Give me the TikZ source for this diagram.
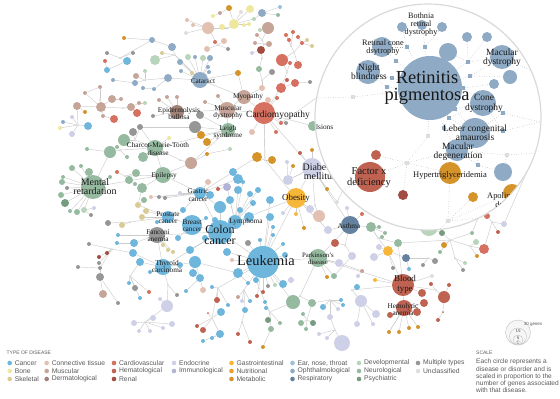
\documentclass[tikz,border=0pt]{standalone}
\usepackage{fontspec}
\setmainfont{Liberation Serif}
\setsansfont{Liberation Sans}
\usetikzlibrary{backgrounds,positioning}

\definecolor{cancer}{RGB}{110,182,220}
\definecolor{bone}{RGB}{238,232,158}
\definecolor{skel}{RGB}{216,203,148}
\definecolor{conn}{RGB}{226,192,178}
\definecolor{musc}{RGB}{198,164,152}
\definecolor{derm}{RGB}{160,130,120}
\definecolor{cardio}{RGB}{214,112,96}
\definecolor{hema}{RGB}{192,98,82}
\definecolor{renal}{RGB}{162,76,66}
\definecolor{endo}{RGB}{206,208,232}
\definecolor{immu}{RGB}{178,180,214}
\definecolor{gastro}{RGB}{246,182,58}
\definecolor{nutri}{RGB}{230,160,50}
\definecolor{metab}{RGB}{212,148,42}
\definecolor{ent}{RGB}{156,192,218}
\definecolor{ophth}{RGB}{142,170,196}
\definecolor{resp}{RGB}{100,130,160}
\definecolor{devel}{RGB}{184,212,186}
\definecolor{neuro}{RGB}{150,186,160}
\definecolor{psych}{RGB}{118,156,128}
\definecolor{multi}{RGB}{150,150,150}
\definecolor{uncl}{RGB}{222,222,222}
\colorlet{genept}{gray!40}

\tikzset{
  dis/.style={circle, inner sep=0pt, draw=none},
  link/.style={draw=gray!40, line width=0.45bp},
  sq/.style={rectangle, inner sep=0pt, minimum size=3.6bp, fill=ophth},
  lsq/.style={sq, fill=uncl},
  mag/.style={draw=gray!65, dotted, line width=0.5bp},
  lens/.style={draw=gray!30, line width=1.2bp, fill=white},
  lbl/.style={inner sep=0pt, align=center, text=black!90, font=\fontsize{7.3}{7.3}\selectfont},
  key/.style={circle, inner sep=0pt, minimum size=4.6bp},
  keytxt/.style={inner sep=0pt, font=\sffamily\fontsize{6.8}{6.8}\selectfont, text=black!65},
  scl/.style={circle, inner sep=0pt, draw=gray!50, fill=gray!7, line width=0.4bp},
}

% name/x/y/radius/colour/parent
\def\netlist{t1/208/28/6/conn/t6,
t2/187/20/2/conn/t1,
t3/193/25/2/conn/t1,
t4/186/33/2/uncl/t1,
t5/222/27/3/bone/t6,
t6/228/28/1/genept/t7,
t7/234/24/5/bone/t6,
t8/229/8/3/metab/t7,
t9/241/12/2/uncl/t7,
t10/250/9/4/bone/t7,
t11/244/25/2/bone/t7,
t12/249/24/2/bone/t7,
t13/254/19/2/devel/t7,
t14/262/13/4/ophth/t13,
t15/278/15/2/neuro/t14,
t16/280/7/2/ent/t14,
t17/220/13/2/musc/t8,
t18/213/16/2/bone/t17,
t19/218/45/1/genept/t1,
t20/215/42/2/cardio/t19,
t21/224/41/3/conn/t19,
t22/228/49/2/multi/t19,
t23/207/49/3/conn/t19,
m1/268/28/6/musc/m3,
m2/260/30/2/devel/m1,
m3/262/40/1/genept/m5,
m4/257/35/2/musc/m3,
m5/264/44/1/genept/m8,
m6/255/43/2/musc/m5,
m7/269/44/3/musc/m5,
m8/261/50/4/renal/m9,
m9/262/58/1/genept/m10,
m10/259/69/3/neuro/m11,
m11/262/80/1/genept/m13,
m12/252/53/2/endo/m8,
m13/262/88/3/conn/myo,
m15/272/72/3/multi/m11,
m16/238/73/3/metab/myo,
m17/268/100/3/conn/cm,
r1/286/35/2/cardio/r5,
r2/293/32/2/cardio/r5,
r3/289/40/2/cardio/r5,
r4/298/37/2/cardio/r6,
r5/291/46/1/genept/r9,
r6/302/43/2/cardio/r9,
r7/307/40/2/skel/r6,
r8/312/46/2/skel/r6,
r9/294/52/1/genept/r10,
r10/282/60/6/cardio/r12,
r11/298/65/4/cardio/r9,
r12/287/72/1/genept/r14,
r13/290/63/2/cardio/r12,
r14/281/88/5/cardio/cm,
r15/295/83/4/cardio/r14,
r16/287/80/2/hema/r14,
r17/310/82/2/multi/r15,
r18/277/98/2/cardio/cm,
o1/172/47/4/ophth/o4,
o2/152/40/3/ophth/o1,
o3/124/38/2/metab/o2,
o4/175/55/1/genept/cat,
o5/162/53/2/skel/o4,
o6/155/60/5/devel/o4,
o7/180/62/3/ophth/cat,
o8/188/57/3/devel/cat,
o9/195/57/2/ophth/cat,
o10/203/58/3/devel/cat,
o11/210/58/3/ophth/cat,
o12/208/67/2/ophth/cat,
o13/209/72/2/ophth/cat,
o14/192/73/2/skel/cat,
o15/181/71/2/ophth/cat,
o16/168/78/4/ophth/cat,
o17/154/89/2/ophth/o16,
o18/143/88/2/ophth/o17,
o19/136/76/3/musc/o20,
o20/145/80/1/genept/o16,
o21/135/83/3/ophth/o20,
o22/145/71/2/devel/o20,
o23/113/80/2/ophth/o21,
o24/107/53/2/multi/o25,
o25/120/58/1/genept/o2,
o26/133/53/2/multi/o25,
o27/127/61/4/cancer/o25,
o28/107/70/3/cancer/o27,
o29/105/61/2/cardio/o28,
u1/101/107/5/musc/u4,
u2/112/99/4/musc/u1,
u3/121/99/2/musc/u2,
u4/100/100/1/genept/u5,
u5/100/87/2/musc/u6,
u6/85/93/2/musc/u1,
u7/77/106/4/musc/u1,
u8/85/112/2/metab/u7,
u9/103/116/2/musc/u1,
u10/114/119/4/cardio/u9,
u11/131/107/4/musc/u12,
u12/123/108/1/genept/u1,
u13/137/113/4/cardio/u11,
u14/139/103/2/musc/u11,
u15/145/103/2/devel/u14,
u16/153/116/2/multi/eb,
u17/159/100/2/musc/eb,
u18/167/97/2/musc/eb,
u19/177/97/2/musc/eb,
u20/200/115/4/multi/leigh,
u21/195/127/6/multi/leigh,
u22/201/135/4/metab/leigh,
u23/207/142/4/metab/leigh,
u24/205/102/2/musc/md,
u25/218/96/2/musc/md,
u26/88/126/4/cancer/u27,
u27/78/125/1/genept/u7,
u28/72/117/2/endo/u27,
u29/72/134/3/endo/u27,
u30/60/128/2/bone/u27,
u31/63/122/2/ophth/u27,
n1/140/127/3/multi/n3,
n2/133/132/4/multi/n3,
n3/135/140/1/genept/cmt,
n4/124/140/6/neuro/n3,
n5/110/152/6/neuro/n6,
n6/120/150/1/genept/cmt,
n7/143/157/5/neuro/cmt,
n8/117/147/2/neuro/n6,
n9/127/157/2/neuro/n6,
n10/169/138/2/bone/cmt,
n11/191/163/6/musc/n12,
n12/180/160/1/genept/cmt,
n13/207/154/2/metab/n11,
n14/230/149/2/devel/n13,
n15/257/157/5/metab/n16,
n16/265/160/1/genept/cm,
n17/272/160/4/metab/n16,
n18/87/149/2/neuro/n5,
n19/72/168/3/neuro/mr,
n20/89/172/4/neuro/mr,
n21/81/166/2/neuro/mr,
n22/117/172/2/cardio/n23,
n23/125/176/1/genept/epi,
n24/136/173/4/neuro/n23,
n25/129/180/4/neuro/n23,
n26/142/188/5/neuro/epi,
n27/135/184/2/neuro/n23,
n28/110/177/2/neuro/mr,
n29/63/177/2/neuro/mr,
n30/62/182/3/neuro/mr,
n31/67/188/2/multi/mr,
n32/61/195/3/neuro/mr,
n33/65/203/4/psych/mr,
n34/70/211/2/neuro/mr,
n35/77/212/3/neuro/mr,
n36/84/210/3/devel/mr,
n37/91/215/2/multi/n36,
n38/94/208/2/endo/n36,
c1/108/223/3/multi/c3,
c2/122/225/3/skel/c3,
c3/130/222/1/genept/pc,
c4/138/205/3/skel/pc,
c5/146/211/3/skel/pc,
c6/142/217/3/skel/pc,
c7/144/200/3/neuro/c4,
c8/151/197/2/conn/gc,
c9/159/197/2/multi/gc,
c10/165/198/2/multi/gc,
c11/180/193/2/endo/gc,
c12/208/182/3/conn/gc,
c13/227/187/4/immu/lym,
c14/238/190/4/cancer/lym,
c15/220/207/6/cancer/cc,
c16/230/200/4/cancer/lym,
c17/240/210/3/cancer/lym,
c18/249/217/5/cancer/lym,
c19/270/217/4/cancer/leuk,
c20/253/203/3/cancer/lym,
c21/250/194/3/cancer/lym,
c22/273/227/2/cancer/leuk,
c23/273/235/2/cancer/leuk,
c24/248/243/3/multi/leuk,
c25/227/252/4/cancer/leuk,
c26/195/262/6/cancer/tc,
c27/190/250/4/cancer/cc,
c28/193/273/4/cancer/c26,
c29/200/278/4/cancer/c26,
c30/206/218/2/cancer/bc,
c31/173/252/2/skel/fa,
c32/168/250/2/skel/fa,
c33/163/245/2/skel/fa,
c34/134/243/4/cancer/fa,
c35/133/253/4/cancer/tc,
c36/140/262/4/cancer/tc,
c37/118/235/2/cancer/fa,
c38/117/243/2/cancer/c34,
c39/89/244/2/multi/c40,
c40/112/249/1/genept/c35,
c41/107/253/2/renal/c40,
c42/99/257/2/renal/c40,
c43/99/263/2/multi/c40,
c44/100/268/2/multi/c40,
c45/78/267/2/multi/c44,
c46/100/277/4/multi/c44,
c47/103/294/4/musc/c46,
c48/118/303/2/multi/c46,
c49/135/288/3/multi/c50,
c50/130/276/1/genept/c36,
c51/129/283/2/cancer/c50,
c52/149/292/2/cardio/c50,
c53/140/298/2/cancer/c50,
c54/177/295/2/multi/c55,
c55/168/285/1/genept/tc,
c56/167/306/6/endo/c55,
c57/160/299/2/endo/c56,
c58/134/323/3/endo/c59,
c59/145/322/1/genept/c56,
c60/139/331/2/endo/c59,
c61/150/331/2/endo/c59,
c62/153/318/3/endo/c59,
c63/163/328/2/endo/c59,
c64/172/324/3/endo/c59,
c65/186/291/2/cancer/c29,
c66/203/290/3/conn/c29,
c67/217/300/3/hema/c68,
c68/218/288/1/genept/leuk,
c69/228/305/2/cancer/c68,
c70/221/312/4/cancer/c71,
c71/212/318/1/genept/c68,
c72/208/313/1/hema/c71,
c73/197/326/2/hema/c71,
c74/203/330/3/hema/c71,
c75/220/334/4/cancer/c71,
c76/212/338/2/cancer/c75,
c77/203/341/2/cancer/c75,
c78/238/297/2/musc/c79,
c79/244/290/1/genept/leuk,
c80/242/301/2/endo/c79,
c81/250/301/2/cancer/c79,
c82/245/310/3/cancer/c79,
c83/242/322/1/genept/c82,
c84/238/334/2/hema/c83,
c85/250/342/2/hema/c83,
c86/257/296/2/hema/leuk,
c87/263/292/2/hema/leuk,
c88/268/286/2/multi/leuk,
c89/275/285/2/devel/leuk,
c90/283/284/4/cancer/leuk,
c91/291/280/3/endo/c90,
c92/238/273/5/cancer/leuk,
c93/232/260/2/conn/leuk,
c94/212/287/2/cancer/c68,
c95/233/172/4/cancer/gc,
c96/238/179/5/cancer/gc,
c97/218/189/2/hema/c13,
c99/243/182/2/cancer/lym,
c100/258/190/3/cancer/lym,
c101/270/200/4/cancer/leuk,
c102/283/244/2/cancer/leuk,
c103/285/255/3/cancer/leuk,
c104/260/240/2/cancer/leuk,
c105/256/280/3/cancer/leuk,
c106/248/283/2/cancer/c92,
c107/215/220/3/cancer/cc,
c108/205/238/3/cancer/cc,
c109/178/238/3/cancer/bc,
c110/183/210/3/cancer/gc,
c111/210/195/4/cancer/gc,
c112/157/222/2/cancer/pc,
c113/180/265/3/cancer/tc,
c114/150/272/2/cancer/tc,
p1/293/302/7/neuro/p3,
p2/312/303/4/neuro/p3,
p3/300/296/1/genept/park,
p4/265/302/2/cancer/p5,
p5/270/312/1/genept/p1,
p6/266/308/2/cancer/p5,
p7/268/320/3/psych/p5,
p8/280/323/2/neuro/p5,
p9/271/329/3/neuro/p5,
p10/263/347/2/metab/p9,
p11/323/307/3/cancer/p12,
p12/330/300/1/genept/p2,
p13/330/317/3/endo/p12,
p14/341/300/2/cancer/p12,
p15/343/305/2/cancer/p12,
p16/338/309/2/endo/p12,
p17/303/314/2/neuro/p18,
p18/307/320/1/genept/p2,
p19/301/323/3/neuro/p18,
p20/313/323/3/psych/p18,
p21/306/329/2/neuro/p18,
p22/319/334/2/endo/p24,
p23/327/338/2/endo/p24,
p24/335/330/1/genept/p13,
p25/342/343/8/endo/p24,
p26/361/301/6/endo/p27,
p27/352/290/1/genept/blood,
p28/376/314/4/endo/p26,
p29/357/324/3/endo/p26,
p30/373/324/2/endo/p26,
p31/357/287/3/cancer/p27,
p32/375/280/2/gastro/blood,
p33/327/277/2/metab/park,
p34/334/276/3/neuro/park,
b1/390/315/3/hema/hemo,
b2/422/293/4/hema/blood,
b3/424/303/4/hema/hemo,
b4/417/312/4/hema/hemo,
b5/444/297/6/hema/b6,
b6/436/290/1/genept/blood,
b7/431/284/2/hema/b6,
b8/449/285/2/hema/b5,
b9/432/276/2/uncl/blood,
b10/443/312/1/hema/b5,
b11/438/320/2/hema/b10,
b12/389/332/2/metab/hemo,
b13/399/332/2/metab/hemo,
b14/409/328/2/metab/hemo,
b15/418/327/2/metab/hemo,
d1/319/216/6/conn/d3,
d2/310/209/4/endo/obe,
d3/315/205/1/genept/diab,
d4/328/230/4/endo/asth,
d5/335/243/4/hema/d6,
d6/345/245/1/genept/asth,
d7/352/256/4/endo/d6,
d8/339/263/4/endo/park,
d9/288/180/5/endo/diab,
d10/300/153/2/hema/diab,
d11/312/150/2/metab/diab,
d12/287/162/2/endo/d9,
d13/293/166/2/metab/d9,
d14/327/189/2/metab/diab,
d15/337/202/2/uncl/diab,
d16/347/208/2/endo/asth,
d17/362/214/2/cardio/asth,
d18/371/227/5/neuro/d19,
d19/378/238/1/genept/d18,
d20/379/227/2/neuro/d18,
d21/385/233/2/neuro/d18,
d22/382/237/2/neuro/d19,
d23/398/243/4/neuro/d19,
d24/388/251/5/gastro/d19,
d25/379/247/3/endo/d24,
d26/374/257/4/endo/d24,
d27/406/258/4/resp/d24,
d28/409/269/2/cancer/d27,
d29/393/268/2/multi/d24,
d30/362/271/2/musc/d8,
d31/358/276/2/endo/d30,
d32/281/123/2/cardio/cm,
d33/276/132/2/cardio/cm,
d34/286/123/2/multi/cm,
d35/252/132/3/conn/cm,
d40/304/228/2/metab/obe,
d41/296/214/2/gastro/obe,
d42/283/213/2/endo/obe,
e1/442/233/3/psych/e3,
e2/429/227/9/devel/e1,
e3/450/240/1/genept/d23,
e4/444/245/3/metab/e3,
e5/440/252/2/neuro/e3,
e6/435/261/3/multi/e7,
e7/428/258/1/genept/d27,
e8/423/265/2/multi/e7,
e9/465/263/2/devel/e10,
e10/455/258/1/genept/e3,
e11/463/270/2/multi/e10,
e12/472/233/2/neuro/e3,
e13/476/242/3/devel/e14,
e14/470/246/1/genept/e3,
e15/484/249/5/cardio/e14,
e16/477/256/2/metab/e14,
e18/487/216/3/cardio/e19,
e19/492/222/1/genept/e15,
e20/504/224/3/endo/e19,
e21/498/232/2/hema/e19,
cat/200/80/8/ophth/o4,
myo/244/97/7/musc/cm,
cm/264/113/11/cardio/n16,
md/227/110/8/musc/myo,
eb/177/112/7/derm/md,
leigh/228/130/7/neuro/md,
cmt/155/148/8/neuro/leigh,
epi/163/175/8/neuro/cmt,
mr/93/187/12/neuro/epi,
gc/200/193/6/cancer/cc,
pc/168/217/6/cancer/bc,
bc/192/225/10/cancer/cc,
fa/157/235/8/multi/cc,
cc/220/232/12/cancer/leuk,
lym/235/222/7/cancer/cc,
leuk/263/262/16/cancer/park,
tc/163/267/8/cancer/cc,
obe/296/198/10/gastro/diab,
diab/312/168/10/endo/cm,
asth/350/225/9/resp/diab,
park/318/258/9/neuro/asth,
blood/403/285/11/hema/park,
hemo/404/308/8/hema/blood,
conv/313/126/5/neuro/cm}

% the retina close-up
\def\maglist{rp/430/88/32/ophth,
nb/368/72/12/ophth,
rcd/382/47/10/ophth,
bot/422/25/5/ophth,
v1/402/27/5/ophth,
v2/442/27/5/ophth,
v3/448/52/9/ophth,
v4/467/37/5/ophth,
v5/487/37/5/ophth,
mdys/502/57/12/ophth,
v6/510/77/7/ophth,
v7/494/84/5/ophth,
cd/483/103/13/ophth,
lca/475/133/15/ophth,
mdeg/457/150/11/ophth,
v8/503/172/9/ophth,
hyp/450/173/11/metab,
fx/370/177/15/hema,
v9/376/155/5/hema,
v10/403/195/5/renal,
apo/512/193/9/metab,
v11/473/197/5/metab}

\begin{document}
\begin{tikzpicture}[x=1bp, y=-1bp]
\useasboundingbox (0,0) rectangle (560,398);
\coordinate (mc) at (428,117);
% free ends on the lens rim
\foreach \n/\x/\y in {ea/316/98, ed/530/70, ee/540/122, eh/535/153, eg/343/190, ec/440/229, ef/478/218}
  \coordinate (\n) at (\x,\y);

% disease network
\foreach \n/\x/\y/\rad/\col/\p in \netlist
  \node[dis, fill=\col, minimum size={2*\rad*1bp}] (\n) at (\x,\y) {};
\begin{pgfonlayer}{background}
  \foreach \n/\x/\y/\rad/\col/\p in \netlist
    \draw[link] (\n) -- (\p);
  \foreach \a/\b in {cat/myo, m16/cat, mr/n5, n11/epi, cmt/n1, u21/n1, obe/n16, obe/lym, leuk/obe, gc/epi,
      c15/gc, park/d8, blood/d24, d23/blood, leuk/p1, c92/c26, tc/fa, asth/d18, diab/d9, n15/c95,
      e1/ec, ea/d32, eg/d15, eh/e20, ef/e12, c4/n26, mr/n28, cm/md, leigh/n11, cc/c27,
      c105/p4, d4/obe, d7/p34, hemo/b12}
    \draw[link] (\a) -- (\b);
\end{pgfonlayer}

\node[lbl] (cat-t) at (203,81) {Cataract};
\node[lbl] (myo-t) at (248,97) {Myopathy};
\node[lbl] (md-t) at (228,112) {Muscular\\dystrophy};
\node[lbl] (eb-t) at (179,113.5) {Epidermolysis\\bullosa};
\node[lbl] (leigh-t) at (228,132.5) {Leigh\\syndrome};
\node[lbl] (cmt-t) at (158,149) {Charcot-Marie-Tooth\\disease};
\node[lbl] (epi-t) at (164,176) {Epilepsy};
\node[lbl, font=\fontsize{10}{9}\selectfont] (mr-t) at (95,187) {Mental\\retardation};
\node[lbl, font=\fontsize{9.5}{9.5}\selectfont] (cm-t) at (278,115) {Cardiomyopathy};
\node[lbl] (gc-t) at (198,195) {Gastric\\cancer};
\node[lbl] (pc-t) at (168,217.5) {Prostate\\cancer};
\node[lbl] (bc-t) at (192,225.5) {Breast\\cancer};
\node[lbl] (fa-t) at (158,235.5) {Fanconi\\anemia};
\node[lbl, font=\fontsize{12}{11}\selectfont] (cc-t) at (220,234.5) {Colon\\cancer};
\node[lbl] (lym-t) at (246,222) {Lymphoma};
\node[lbl, font=\fontsize{14.5}{14.5}\selectfont] (leuk-t) at (266,261) {Leukemia};
\node[lbl] (tc-t) at (167,266.5) {Thyroid\\carcinoma};
\node[lbl, font=\fontsize{9}{9}\selectfont] (obe-t) at (296,198) {Obesity};
\node[lbl, font=\fontsize{10}{9}\selectfont] (diab-t) at (320,171.5) {Diabetes\\mellitus};
\node[lbl] (asth-t) at (349,225.7) {Asthma};
\node[lbl, font=\fontsize{6.8}{7}\selectfont] (park-t) at (318,258.5) {Parkinson's\\disease};
\node[lbl, font=\fontsize{9}{10}\selectfont] (blood-t) at (405,284) {Blood\\type};
\node[lbl] (hemo-t) at (403,309.5) {Hemolytic\\anemia};

% lens
\draw[lens] (mc) circle (113bp);
\begin{scope}
  \clip (mc) circle (112.4bp);
  \foreach \n/\x/\y/\rad/\col in \maglist
    \node[dis, fill=\col, minimum size={2*\rad*1bp}] (\n) at (\x,\y) {};
  \foreach \n/\x/\y in {q1/407/47, q2/396/61, q3/392/78, q4/387/87, q5/425/47, q6/468/62, q7/470/76,
      q8/463/88, q9/455/109, q10/449/118, q11/444/128, q12/503/113, q13/503/131, q14/478/165}
    \node[sq] (\n) at (\x,\y) {};
  \foreach \n/\x/\y in {w1/353/97, w2/428/136, w3/407/163, w4/507/155, w5/448/221}
    \node[lsq] (\n) at (\x,\y) {};
  \foreach \a/\b in {q1/rcd, q1/rp, q1/v1, q5/bot, q5/rp, q5/v2, q2/rcd, q2/rp, q3/nb, q3/rp, q4/nb, q4/rp,
      q6/v3, q6/v4, q6/v5, q6/rp, q6/mdys, q7/mdys, q7/rp, q7/v6, q8/v7, q8/rp, q8/cd, q9/rp, q9/cd,
      q9/lca, q10/rp, q10/lca, q10/cd, q11/rp, q11/lca, q11/mdeg, q12/cd, q12/lca, q13/lca, q13/cd,
      q14/mdeg, q14/v8, q14/lca, w1/rp, w1/ea, w2/rp, w2/w3, w3/fx, w3/v9, w3/hyp, w3/mdeg, w4/mdeg,
      w4/v8, w4/eh, w5/hyp, w5/apo, w5/v11, w5/ec, w5/ef, mdys/ed, q12/ee, q13/ee, fx/eg, w3/v10}
    \draw[mag] (\a) -- (\b);
  \node[lbl, font=\fontsize{18.5}{17.5}\selectfont] (rp-t) at (427,88) {Retinitis\\pigmentosa};
  \node[lbl, font=\fontsize{9.5}{9}\selectfont] (nb-t) at (369,72) {Night\\blindness};
  \node[lbl, font=\fontsize{8.3}{8}\selectfont] (rcd-t) at (383,48) {Retinal cone\\dsytrophy};
  \node[lbl, font=\fontsize{8.2}{8}\selectfont] (bot-t) at (421,25) {Bothnia\\retinal\\dystrophy};
  \node[lbl, font=\fontsize{9.5}{9.5}\selectfont] (mdys-t) at (502,57.5) {Macular\\dystrophy};
  \node[lbl, font=\fontsize{9.5}{10}\selectfont] (cd-t) at (484,103) {Cone\\dystrophy};
  \node[lbl, font=\fontsize{9.5}{9.5}\selectfont] (lca-t) at (475,133) {Leber congenital\\amaurosis};
  \node[lbl, font=\fontsize{9.5}{9}\selectfont] (mdeg-t) at (458,152) {Macular\\degeneration};
  \node[lbl, font=\fontsize{8.6}{8.6}\selectfont] (hyp-t) at (450,175) {Hypertriglyceridemia};
  \node[lbl, font=\fontsize{10.5}{11}\selectfont] (fx-t) at (369,177.5) {Factor x\\deficiency};
  \node[lbl, font=\fontsize{8.5}{8.5}\selectfont] (apo-t) at (513,201) {Apolipoprotein\\deficiency};
\end{scope}
\node[lbl, anchor=west] (conv-t) at (316,127) {lsions};

% legend
\node[keytxt, anchor=west, font=\sffamily\fontsize{5}{5}\selectfont] (ktitle) at (6.5,353) {TYPE OF DISEASE};
\foreach \n/\x/\y/\col/\t in {k1/9.7/363/cancer/Cancer, k2/9.7/371/bone/Bone, k3/9.7/379/skel/Skeletal,
    k4/46.7/363/conn/Connective tissue, k5/46.7/371/musc/Muscular, k6/46.7/379/derm/Dermatological,
    k7/114/363/cardio/Cardiovascular, k8/114/371/hema/Hematological, k9/114/379/renal/Renal,
    k10/174/363/endo/Endocrine, k11/174/371/immu/Immunological,
    k12/231.5/363/gastro/Gastrointestinal, k13/231.5/371/nutri/Nutritional, k14/231.5/379/metab/Metabolic,
    k15/292.5/363/ent/{Ear, nose, throat}, k16/292.5/371/ophth/Ophthalmological, k17/292.5/379/resp/Respiratory,
    k18/359/363/devel/Developmental, k19/359/371/neuro/Neurological, k20/359/379/psych/Psychiatric,
    k21/418/363/multi/Multiple types, k22/418/371/uncl/Unclassified}
{
  \node[key, fill=\col] (\n) at (\x,\y) {};
  \node[keytxt, right=2.4bp of \n] (\n-t) {\t};
}

% scale
\node[keytxt, anchor=west, font=\sffamily\fontsize{5}{5}\selectfont] (stitle) at (476,353) {SCALE};
\node[keytxt, anchor=north west, align=left, font=\sffamily\fontsize{6.6}{7.2}\selectfont] (snote) at (476,359)
  {Each circle represents a\\disease or disorder and is\\scaled in proportion to the\\number of genes associated\\with that disease.};
\node[scl, minimum size=25bp] (s30) at (518,332.5) {};
\node[scl, minimum size=17bp] (s15) at (518,336.5) {};
\node[scl, minimum size=10bp] (s5) at (518,340) {};
\node[scl, minimum size=4.5bp] (s1) at (518,342.7) {};
\node[keytxt, font=\sffamily\fontsize{4.5}{5}\selectfont] (s30-t) at (533,324) {30 genes};
\node[keytxt, font=\sffamily\fontsize{4.5}{5}\selectfont] (s15-t) at (518,331) {15};
\node[keytxt, font=\sffamily\fontsize{4.5}{5}\selectfont] (s5-t) at (518,337.5) {5};
\node[keytxt, font=\sffamily\fontsize{4}{5}\selectfont] (s1-t) at (518,342.8) {1};
\end{tikzpicture}
\end{document}
